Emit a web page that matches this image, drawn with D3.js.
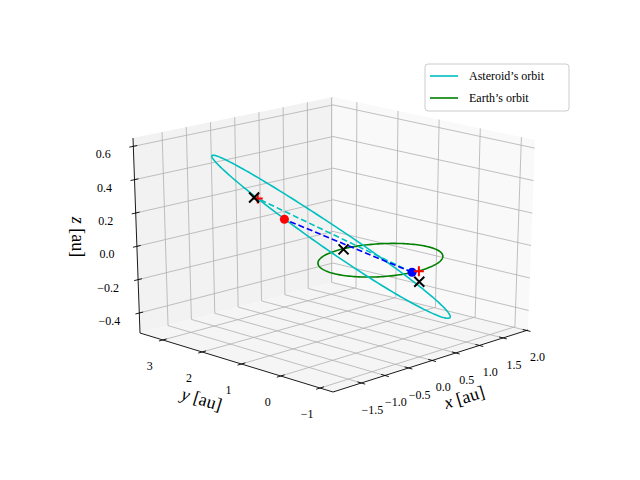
<!DOCTYPE html>
<html><head><meta charset="utf-8">
<script src="https://cdn.jsdelivr.net/npm/d3@7"></script>
<style>body{margin:0;background:#fff}text{font-family:"Liberation Serif",serif}</style>
</head><body><svg id="c" width="640" height="480"></svg>
<script>
// ---- data ----
const xLim=[-2.1,2.03], yLim=[-1.33,3.58], zLim=[-0.52,0.65];
const xTicks=[-1.5,-1.0,-0.5,0.0,0.5,1.0,1.5,2.0];
const yTicks=[-1,0,1,2,3];
const zTicks=[-0.4,-0.2,0.0,0.2,0.4,0.6];
const xTickLabels=["−1.5","−1.0","−0.5","0.0","0.5","1.0","1.5","2.0"];
const yTickLabels=["−1","0","1","2","3"];
const zTickLabels=["−0.4","−0.2","0.0","0.2","0.4","0.6"];
// asteroid orbit: centre, semi-axis vectors (au)
const astCenter=[-0.13,1.03,0.075], astU=[-1.46,1.22,0.525], astV=[1.205,1.24,-0.115];
// Earth orbit: circle radius (au)
const earthRadius=1.0;
const earthPos=[-0.154,-0.974,0.0];
const asteroidPos=[-1.76,0.28,0.36];
const crossPts=[[-1.49,1.35,0.4],[-0.61,0.19,0.1],[0.19,-0.75,-0.1]];
const plusPts=[[-1.49,1.26,0.4],[-0.05,-1.02,0.0]];
const legendLabels=["Asteroid’s orbit","Earth’s orbit"];
const colors={ast:"#00bfbf",earth:"#008000",blue:"#0000ff",red:"#ff0000"};

// ---- projection: view box corners on screen (layout), trilinear ----
const box={c000:[333,392],c100:[528,330],c010:[140,333],c110:[333,282],
           c001:[333,192],c101:[535,140],c011:[133,138],c111:[333,97]};
const su=d3.scaleLinear().domain(xLim).range([0,1]);
const sv=d3.scaleLinear().domain(yLim).range([0,1]);
const sw=d3.scaleLinear().domain(zLim).range([0,1]);
function P(p){const u=su(p[0]),v=sv(p[1]),w=sw(p[2]);const r=[0,0];
 for(const i of [0,1])for(const j of [0,1])for(const k of [0,1]){
  const wt=(i?u:1-u)*(j?v:1-v)*(k?w:1-w);const c=box["c"+i+j+k];r[0]+=wt*c[0];r[1]+=wt*c[1];}
 return r;}

const svg=d3.select("#c");
const line=d3.line();
const [x0,x1]=xLim,[y0,y1]=yLim,[z0,z1]=zLim;
// panes
const pane=(pts,fill)=>svg.append("path").attr("d",line(pts.map(P))+"Z").attr("fill",fill).attr("stroke","none");
pane([[x0,y1,z0],[x1,y1,z0],[x1,y1,z1],[x0,y1,z1]],"#f2f2f2");
pane([[x1,y0,z0],[x1,y1,z0],[x1,y1,z1],[x1,y0,z1]],"#f9f9f9");
pane([[x0,y0,z0],[x1,y0,z0],[x1,y1,z0],[x0,y1,z0]],"#f5f5f5");
// grid
const g=svg.append("g").attr("stroke","#b0b0b0").attr("stroke-width",0.8).attr("fill","none");
const seg=(a,b)=>g.append("path").attr("d",line([P(a),P(b)]));
xTicks.forEach(t=>{seg([t,y0,z0],[t,y1,z0]);seg([t,y1,z0],[t,y1,z1]);});
yTicks.forEach(t=>{seg([x0,t,z0],[x1,t,z0]);seg([x1,t,z0],[x1,t,z1]);});
zTicks.forEach(t=>{seg([x0,y1,t],[x1,y1,t]);seg([x1,y0,t],[x1,y1,t]);});
// axes
const ax=svg.append("g").attr("stroke","#000").attr("stroke-width",0.9).attr("fill","none");
const aseg=(a,b)=>ax.append("path").attr("d",line([P(a),P(b)]));
aseg([x0,y0,z0],[x1,y0,z0]);aseg([x0,y0,z0],[x0,y1,z0]);aseg([x0,y1,z0],[x0,y1,z1]);
const dy=(y1-y0)*0.02,dx=(x1-x0)*0.02,dxz=(x1-x0)*0.02;
xTicks.forEach(t=>aseg([t,y0-dy,z0],[t,y0+dy,z0]));
yTicks.forEach(t=>aseg([x0-dx,t,z0],[x0+dx,t,z0]));
zTicks.forEach(t=>aseg([x0-dxz,y1,t],[x0+dxz,y1,t]));
// tick labels
const tl=svg.append("g").attr("font-size",12).attr("text-anchor","middle").attr("fill","#000");
xTicks.forEach((t,i)=>{const p=P([t,y0,z0]);tl.append("text").attr("x",p[0]+11).attr("y",p[1]+31).text(xTickLabels[i]);});
yTicks.forEach((t,i)=>{const p=P([x0,t,z0]);tl.append("text").attr("x",p[0]-13).attr("y",p[1]+30).text(yTickLabels[i]);});
zTicks.forEach((t,i)=>{const p=P([x0,y1,t]);tl.append("text").attr("x",p[0]-30).attr("y",p[1]+12).text(zTickLabels[i]);});
// axis labels
const lab=(x,y,rot,v)=>{const t=svg.append("text").attr("transform",`translate(${x},${y}) rotate(${rot})`).attr("text-anchor","middle").attr("font-size",18);
 t.append("tspan").attr("font-style","italic").text(v);t.append("tspan").text(" [au]");};
lab(466,403,-17,"x");lab(200,405,17,"y");lab(72,237,90,"z");
// orbits
const ts=d3.range(0,361,2).map(d=>d*Math.PI/180);
const earthOrbit=ts.map(t=>[earthRadius*Math.cos(t),earthRadius*Math.sin(t),0]);
const astOrbit=ts.map(t=>[0,1,2].map(k=>astCenter[k]+astU[k]*Math.cos(t)+astV[k]*Math.sin(t)));
svg.append("path").attr("d",line(earthOrbit.map(P))).attr("fill","none").attr("stroke",colors.earth).attr("stroke-width",1.6);
svg.append("path").attr("d",line(astOrbit.map(P))).attr("fill","none").attr("stroke",colors.ast).attr("stroke-width",1.6);
svg.append("path").attr("d",line([earthPos,plusPts[0]].map(P))).attr("fill","none").attr("stroke",colors.ast).attr("stroke-width",1.6).attr("stroke-dasharray","6,3");
svg.append("path").attr("d",line([earthPos,asteroidPos].map(P))).attr("fill","none").attr("stroke",colors.blue).attr("stroke-width",1.6).attr("stroke-dasharray","6,3");
// markers
const e=P(earthPos);svg.append("circle").attr("cx",e[0]).attr("cy",e[1]).attr("r",4.5).attr("fill",colors.blue);
const a=P(asteroidPos);svg.append("circle").attr("cx",a[0]).attr("cy",a[1]).attr("r",4.5).attr("fill",colors.red);
plusPts.forEach(q=>{const p=P(q);svg.append("path").attr("d",`M${p[0]-5},${p[1]}H${p[0]+5}M${p[0]},${p[1]-5}V${p[1]+5}`).attr("stroke",colors.red).attr("stroke-width",2);});
crossPts.forEach(q=>{const p=P(q);svg.append("path").attr("d",`M${p[0]-5},${p[1]-5}L${p[0]+5},${p[1]+5}M${p[0]-5},${p[1]+5}L${p[0]+5},${p[1]-5}`).attr("stroke","#000").attr("stroke-width",2);});
// legend
const L=svg.append("g");
L.append("rect").attr("x",425).attr("y",64).attr("width",144).attr("height",47).attr("rx",3).attr("fill","#fff").attr("fill-opacity",0.8).attr("stroke","#cccccc");
[colors.ast,colors.earth].forEach((c,i)=>{const y=76+i*22;
 L.append("line").attr("x1",430).attr("x2",458).attr("y1",y).attr("y2",y).attr("stroke",c).attr("stroke-width",1.6);
 L.append("text").attr("x",469).attr("y",y+4).attr("font-size",12).text(legendLabels[i]);});
</script></body></html>
